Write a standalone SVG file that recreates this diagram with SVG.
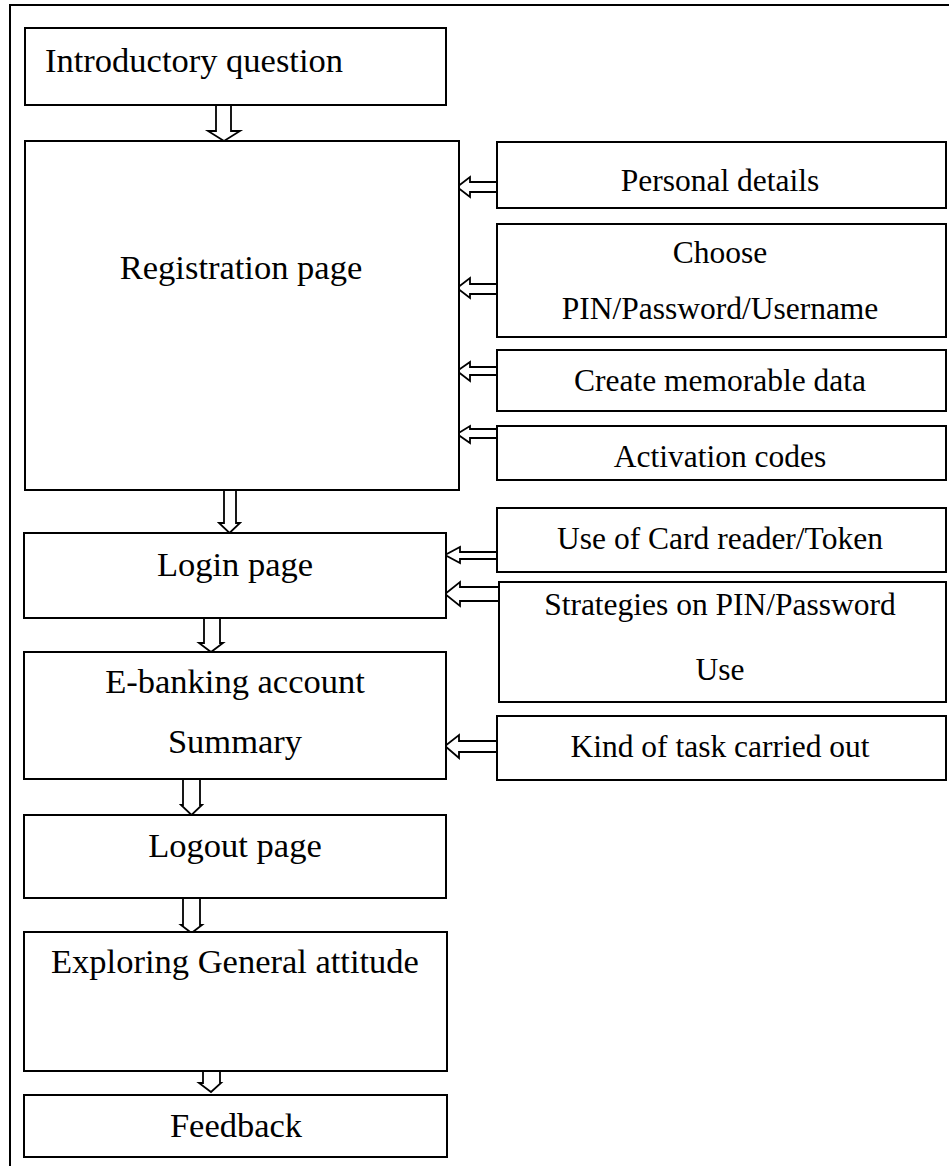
<svg xmlns="http://www.w3.org/2000/svg" width="949" height="1166" viewBox="0 0 949 1166">
<style>
.box{fill:#fff;stroke:#000;stroke-width:2}
.arr{fill:#fff;stroke:#000;stroke-width:1.8;stroke-linejoin:miter}
.frame{fill:none;stroke:#000;stroke-width:2}
.tl{font-family:"Liberation Serif","Times New Roman",serif;font-size:34.5px;fill:#000}
.tr{font-family:"Liberation Serif","Times New Roman",serif;font-size:31.5px;fill:#000;text-anchor:middle}
.c{text-anchor:middle}
</style>
<rect width="949" height="1166" fill="#fff"/>
<g id="frame"><path class="frame" d="M10,1166 V5 H949"/></g>
<g id="connectors">
<polygon class="arr" points="216,105 231,105 231,131 240,131 224,141 208,131 216,131"/>
<polygon class="arr" points="224,490 236,490 236,523 240,523 229.5,533 219,523 224,523"/>
<polygon class="arr" points="204,618 220,618 220,643 223,643 211,652 199,643 204,643"/>
<polygon class="arr" points="183,779 200,779 200,805 202,805 191.5,815 181,805 183,805"/>
<polygon class="arr" points="183,898 200,898 200,925 202,925 191.5,933 181,925 183,925"/>
<polygon class="arr" points="203,1071 220,1071 220,1083 221,1083 211,1092 199,1083 203,1083"/>
<polygon class="arr" points="497,182 470,182 470,177 457,187 470,197 470,192 497,192"/>
<polygon class="arr" points="497,284 470,284 470,278 457,288 470,298 470,294 497,294"/>
<polygon class="arr" points="497,367 470,367 470,362 457,371 470,381 470,375 497,375"/>
<polygon class="arr" points="497,429 470,429 470,426 457,434 470,443 470,438 497,438"/>
<polygon class="arr" points="497,552 460,552 460,547 445,555 460,563 460,559 497,559"/>
<polygon class="arr" points="499,587 460,587 460,582 445,594 460,606 460,601 499,601"/>
<polygon class="arr" points="497,741 459,741 459,735 445,746 459,758 459,752 497,752"/>
</g>
<g id="intro"><rect class="box" x="25" y="28" width="421" height="77"/><text class="tl" x="45" y="72">Introductory question</text></g>
<g id="registration"><rect class="box" x="25" y="141" width="434" height="349"/><text class="tl c" x="241" y="279">Registration page</text></g>
<g id="login"><rect class="box" x="24" y="533" width="422" height="85"/><text class="tl c" x="235" y="576">Login page</text></g>
<g id="ebanking"><rect class="box" x="24" y="652" width="422" height="127"/><text class="tl c" x="235" y="693">E-banking account</text><text class="tl c" x="235" y="753">Summary</text></g>
<g id="logout"><rect class="box" x="24" y="815" width="422" height="83"/><text class="tl c" x="235" y="857">Logout page</text></g>
<g id="exploring"><rect class="box" x="24" y="932" width="423" height="139"/><text class="tl c" x="235" y="973">Exploring General attitude</text></g>
<g id="feedback"><rect class="box" x="24" y="1095" width="423" height="62"/><text class="tl c" x="236" y="1137">Feedback</text></g>
<g id="personal"><rect class="box" x="497" y="142" width="449" height="66"/><text class="tr" x="720" y="191">Personal details</text></g>
<g id="choose"><rect class="box" x="497" y="224" width="449" height="113"/><text class="tr" x="720" y="263">Choose</text><text class="tr" x="720" y="319">PIN/Password/Username</text></g>
<g id="memorable"><rect class="box" x="497" y="350" width="449" height="61"/><text class="tr" x="720" y="391">Create memorable data</text></g>
<g id="activation"><rect class="box" x="497" y="426" width="449" height="54"/><text class="tr" x="720" y="467">Activation codes</text></g>
<g id="cardreader"><rect class="box" x="497" y="508" width="449" height="64"/><text class="tr" x="720" y="549">Use of Card reader/Token</text></g>
<g id="strategies"><rect class="box" x="499" y="582" width="447" height="120"/><text class="tr" x="720" y="615">Strategies on PIN/Password</text><text class="tr" x="720" y="680">Use</text></g>
<g id="kindtask"><rect class="box" x="497" y="716" width="449" height="64"/><text class="tr" x="720" y="757">Kind of task carried out</text></g>
</svg>
